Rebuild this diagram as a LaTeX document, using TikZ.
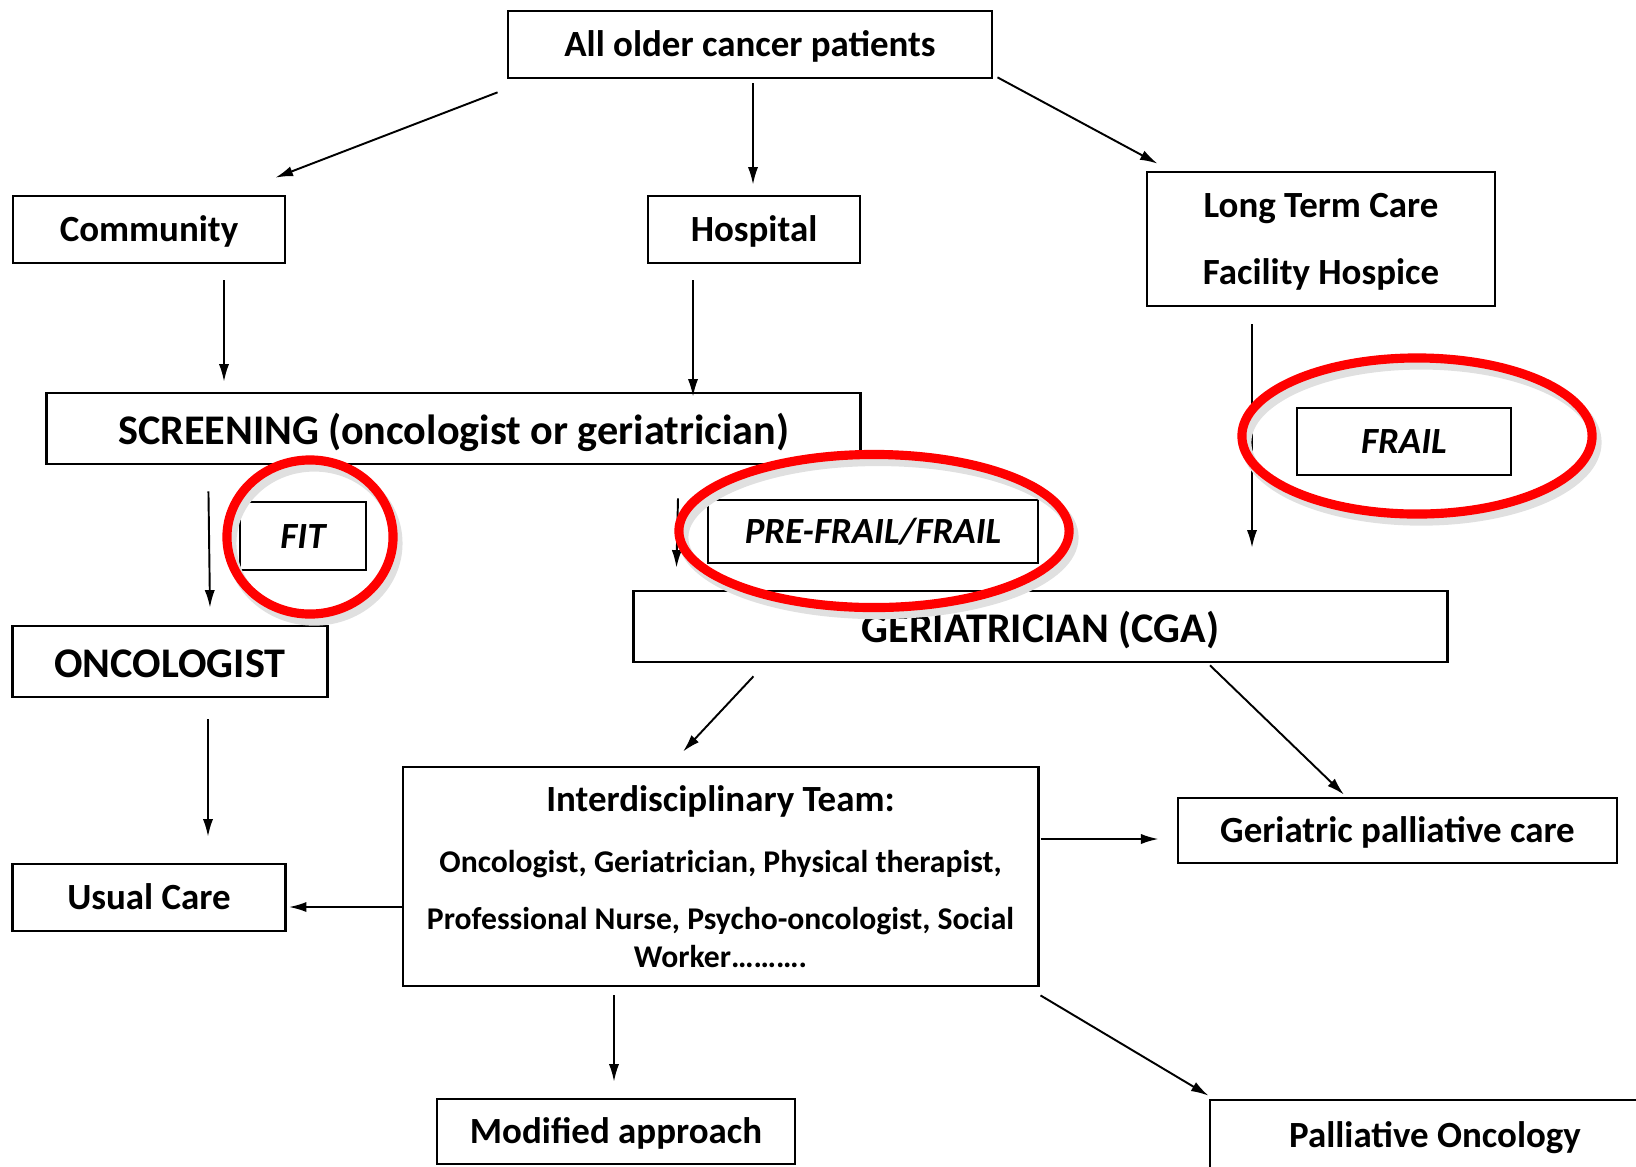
\documentclass[tikz,border=0pt]{standalone}
\usepackage{fontspec}
\setmainfont{Carlito}
\usetikzlibrary{arrows.meta,shapes.geometric}

\begin{document}
\begin{tikzpicture}[
    x=0.01cm, y=-0.01cm,
    >={Latex[length=5pt,width=2.9pt]},
    every node/.style={font=\bfseries\fontsize{10.5}{12.6}\selectfont},
    box/.style={draw, line width=0.75pt, inner sep=2pt, align=center},
    line/.style={box, text height=9pt, text depth=2pt},
    big/.style={box, text height=11pt, text depth=2pt,
                font=\bfseries\fontsize{12}{14.4}\selectfont},
    tag/.style={line, font=\bfseries\itshape\fontsize{10.5}{12.6}\selectfont},
    ring/.style={draw=red, line width=2.6pt, ellipse, inner sep=0pt,
                 preaction={draw=black!12, line width=3pt,
                            transform canvas={shift={(1.2pt,-1.8pt)}}}},
    arr/.style={->, line width=0.55pt},
  ]
  \useasboundingbox (0,0) rectangle (1636,1166);
  % top row
  \node[line, minimum width=4.84cm, minimum height=0.67cm] (all)  at (750, 44.5) {All older cancer patients};
  \node[line, minimum width=2.72cm, minimum height=0.67cm] (comm) at (149, 229.5) {Community};
  \node[line, minimum width=2.12cm, minimum height=0.67cm] (hosp) at (754, 229.5) {Hospital};
  \node[box, text depth=0pt, minimum width=3.48cm, minimum height=1.34cm] (ltc) at (1321, 239)
    {Long Term Care\\[6.5pt]Facility Hospice};
  % screening
  \node[big, minimum width=8.13cm, minimum height=0.71cm] (scr) at (453.5, 428.5) {SCREENING (oncologist or geriatrician)};
  \node[tag, minimum width=1.26cm, minimum height=0.68cm] (fit)   at (303, 536) {FIT};
  \node[tag, minimum width=3.30cm, minimum height=0.63cm] (pre)   at (873, 531.5) {PRE-FRAIL/FRAIL};
  \node[tag, minimum width=2.14cm, minimum height=0.67cm] (frail) at (1404, 441.5) {FRAIL};
  \node[big, minimum width=3.15cm, minimum height=0.71cm] (onc) at (170, 661.5) {ONCOLOGIST};
  \node[big, minimum width=8.13cm, minimum height=0.71cm] (ger) at (1040.5, 626.5) {GERIATRICIAN (CGA)};
  % team and outcomes
  \node[box, font=\bfseries\fontsize{9}{10.8}\selectfont,
        minimum width=6.35cm, minimum height=2.19cm] (idt) at (720.5, 876.5)
    {{\fontsize{10.5}{12.6}\selectfont Interdisciplinary Team:}\\[6.6pt]
     Oncologist, Geriatrician, Physical therapist,\\[5.4pt]
     Professional Nurse, Psycho-oncologist, Social\\
     Worker……….};
  \node[line, minimum width=4.39cm, minimum height=0.65cm] (gpc)   at (1397.5, 830.5) {Geriatric palliative care};
  \node[line, minimum width=2.73cm, minimum height=0.67cm] (usual) at (149, 897.5) {Usual Care};
  \node[line, minimum width=3.58cm, minimum height=0.65cm] (mod)   at (616, 1131.5) {Modified approach};
  \node[line, minimum width=4.50cm, minimum height=0.70cm] (pall)  at (1435, 1135) {Palliative Oncology};
  % arrows
  \draw[arr] ([shift={(-9,13)}]all.south west) -- ([shift={(-11,-17)}]comm.north east);
  \draw[arr] ([shift={(3,4)}]all.south) -- ([shift={(-1,-10)}]hosp.north);
  \draw[arr] ([shift={(4,-2)}]all.south east) -- ([shift={(12,-7)}]ltc.north west);
  \draw[arr] ([shift={(75,16)}]comm.south) -- ([shift={(-229.5,-10)}]scr.north);
  \draw[arr] ([shift={(-61,16)}]hosp.south) -- ([shift={(239.5,5)}]scr.north);
  \draw[arr] ([shift={(163,26)}]scr.south west) -- ([shift={(40,-17)}]onc.north);
  \draw[arr] ([shift={(224.5,33)}]scr.south) -- ([shift={(44,-22)}]ger.north west);
  \draw[arr] ([shift={(-69,17)}]ltc.south) -- ([shift={(211.5,-42)}]ger.north);
  \draw[arr] ([shift={(38,21)}]onc.south) -- ([shift={(59,-26)}]usual.north);
  \draw[arr] ([shift={(121,13)}]ger.south west) -- ([shift={(-37.5,-14)}]idt.north);
  \draw[arr] ([shift={(169.5,2)}]ger.south) -- ([shift={(-53.5,-2)}]gpc.north);
  \draw[arr] ([shift={(1,-37.5)}]idt.east) -- ([shift={(-18,8.5)}]gpc.west);
  \draw[arr] ([shift={(0,30.5)}]idt.west) -- ([shift={(2,9.5)}]usual.east);
  \draw[arr] ([shift={(-106.5,8)}]idt.south) -- ([shift={(-2,-16)}]mod.north);
  \draw[arr] ([shift={(1,8)}]idt.south east) -- ([shift={(0,-3)}]pall.north west);
  % red rings
  \node[ring, minimum width=1.66cm, minimum height=1.54cm] (fitring)   at (310, 537) {};
  \node[ring, minimum width=3.90cm, minimum height=1.53cm] (prering)   at (874, 531) {};
  \node[ring, minimum width=3.50cm, minimum height=1.56cm] (frailring) at (1417, 436) {};
\end{tikzpicture}
\end{document}
